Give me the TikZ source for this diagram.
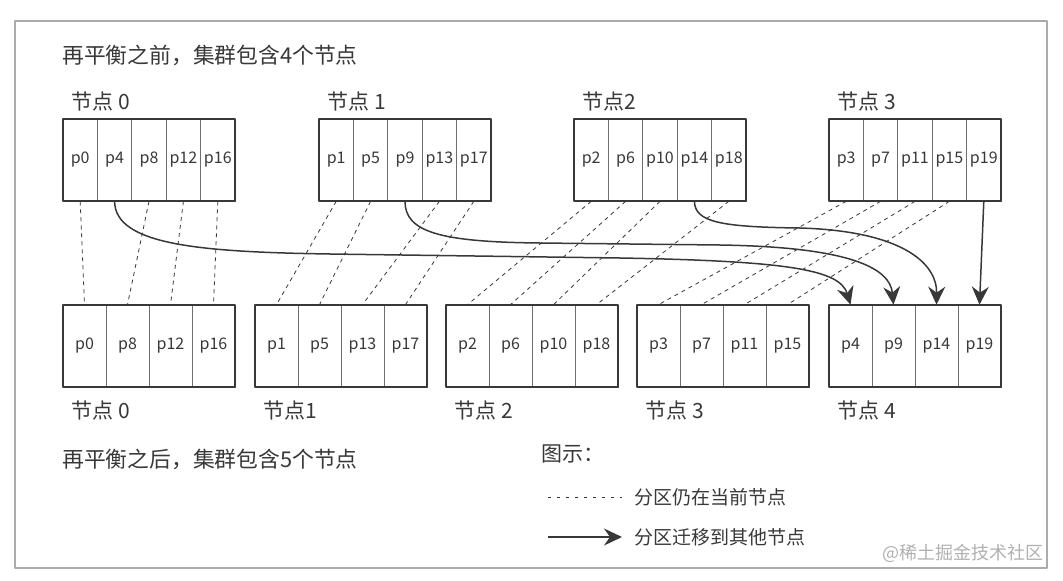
\documentclass[tikz,border=0pt]{standalone}
\usepackage{fontspec}
\setmainfont{Noto Sans CJK SC}
\usetikzlibrary{arrows.meta,positioning}

\definecolor{ink}{HTML}{383838}
\definecolor{rulegray}{HTML}{6E6E6E}
\definecolor{framegray}{HTML}{ABABAB}
\definecolor{markgray}{HTML}{B0B0B0}

\tikzset{
  oldcell/.style={draw=rulegray, line width=0.7pt, minimum width=34.4pt,
    minimum height=82pt, inner sep=0pt, text=ink, font=\fontsize{16}{18}\selectfont},
  newcell/.style={oldcell, minimum width=43pt},
  boxline/.style={draw=ink, line width=1.6pt, minimum width=172pt,
    minimum height=82pt, inner sep=0pt},
  lbl/.style={inner sep=0pt, text=ink, font=\fontsize{21}{25}\selectfont},
  stay/.style={draw=ink, line width=0.8pt, dash pattern=on 4pt off 4pt},
  move/.style={draw=ink, line width=1.5pt, -{Stealth[length=18pt,width=17pt,inset=6pt]}},
}

\begin{document}
\begin{tikzpicture}[x=1pt,y=-1pt,line join=round]
  \useasboundingbox (0,0) rectangle (1063,581);

  % cornice esterna
  \draw[framegray, line width=1.2pt] (15,21) rectangle (1047,568);

  \node[lbl, anchor=west, font=\fontsize{21.8}{26}\selectfont] (titleold) at (62,55) {再平衡之前，集群包含4个节点};

  % ---- prima: 4 nodi, 5 partizioni ciascuno -----------------------------
  \foreach \n/\x/\name in {0/63/节点 0,1/319/节点 1,2/574/节点2,3/829/节点 3} {
    \foreach \j in {0,...,4} {
      \pgfmathtruncatemacro\p{\n+4*\j}
      \node[oldcell] (old\p) at ({\x+17.2+34.4*\j},160) {p\p};
    }
    \node[boxline] (oldbox\n) at ({\x+86},160) {};
    \node[lbl, anchor=west] (oldname\n) at ([xshift=9pt,yshift=17pt]oldbox\n.north west) {\name};
  }

  % ---- dopo: 5 nodi, 4 partizioni ciascuno ------------------------------
  \foreach \n/\x/\name/\lista in {0/63/节点 0/{0,8,12,16},1/255/节点1/{1,5,13,17},
      2/446/节点 2/{2,6,10,18},3/637/节点 3/{3,7,11,15},4/829/节点 4/{4,9,14,19}} {
    \foreach \p [count=\j from 0] in \lista {
      \node[newcell] (new\p) at ({\x+21.5+43*\j},346) {p\p};
    }
    \node[boxline] (newbox\n) at ({\x+86},346) {};
    \node[lbl, anchor=west] (newname\n) at ([xshift=9pt,yshift=-23pt]newbox\n.south west) {\name};
  }

  \node[lbl, anchor=west, font=\fontsize{21.8}{26}\selectfont] (titlenew) at (62,459) {再平衡之后，集群包含5个节点};

  % partizioni che restano sul nodo
  \foreach \p in {0,8,12,16,1,5,13,17,2,6,10,18,3,7,11,15}
    \draw[stay] (old\p.south) -- (new\p.north);

  % partizioni migrate sul nodo 4
  \draw[move] (old4.south) .. controls (115,245) and (200,252) .. (330,254)
    -- (620,258) .. controls (790,261) and (840,270) .. (new4.north);
  \draw[move] (old9.south) .. controls (405,232) and (440,242) .. (540,243)
    -- (720,245) .. controls (850,247) and (890,268) .. (new9.north);
  \draw[move] (old14.south) .. controls (695,222) and (720,227) .. (800,228)
    .. controls (900,231) and (937,262) .. (new14.north);
  \draw[move] (old19.south) -- (new19.north);

  % ---- legenda -----------------------------------------------------------
  \node[lbl, anchor=west] (legtitle) at (541,454) {图示：};
  \coordinate (stayA) at (548,497);
  \coordinate (stayB) at (622,497);
  \draw[stay, line width=0.7pt, dash pattern=on 2.5pt off 6.5pt] (stayA) -- (stayB);
  \node[lbl, anchor=west, font=\fontsize{19}{22}\selectfont, right=12pt of stayB] (staytext) {分区仍在当前节点};
  \coordinate (moveA) at (548,537);
  \coordinate (moveB) at (622,537);
  \draw[move] (moveA) -- (moveB);
  \node[lbl, anchor=west, font=\fontsize{19}{22}\selectfont, right=12pt of moveB] (movetext) {分区迁移到其他节点};

  \node[lbl, anchor=west, text=markgray, font=\fontsize{18}{20}\selectfont] (watermark) at (882,553) {@稀土掘金技术社区};
\end{tikzpicture}
\end{document}
